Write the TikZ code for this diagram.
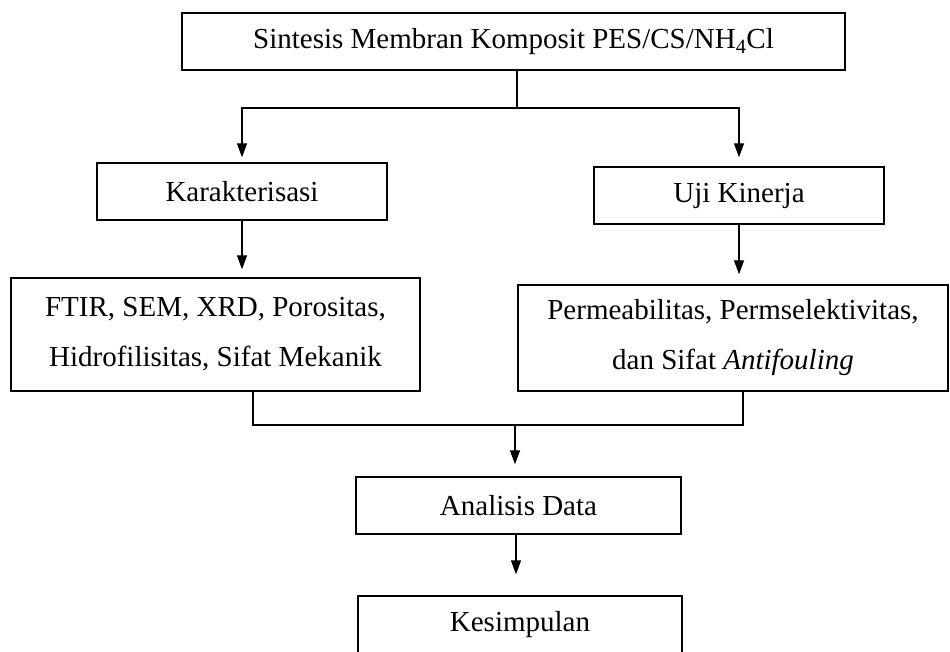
\documentclass[tikz,border=0pt]{standalone}
\usepackage{fontspec}
\setmainfont{Liberation Serif}
\usetikzlibrary{arrows.meta}

\begin{document}
\begin{tikzpicture}[x=1pt, y=-1pt,
    box/.style={draw, line width=1.4pt, inner sep=0pt, align=center,
      font=\fontsize{29}{50}\selectfont},
    line/.style={line width=1.2pt},
    arr/.style={line, -{Triangle[length=14pt,width=10pt]}}]
  \useasboundingbox (0,0) rectangle (950,651);
  \node[box, minimum width=663pt, minimum height=57pt] (sintesis) at (513.5,41.5)
    {Sintesis Membran Komposit PES/CS/NH\textsubscript{4}Cl};
  \node[box, minimum width=290pt, minimum height=57pt] (karakter) at (242,191.5) {Karakterisasi};
  \node[box, minimum width=290pt, minimum height=57pt] (uji) at (739,195.5) {Uji Kinerja};
  \node[box, minimum width=409pt, minimum height=113pt] (ftir) at (215.5,334.5)
    {FTIR, SEM, XRD, Porositas,\\Hidrofilisitas, Sifat Mekanik};
  \node[box, minimum width=430pt, minimum height=106pt] (perm) at (733,338)
    {Permeabilitas, Permselektivitas,\\dan Sifat \textit{Antifouling}};
  \node[box, minimum width=325pt, minimum height=57pt] (analisis) at (518.5,505.5) {Analisis Data};
  \node[box, minimum width=324pt, minimum height=57pt] (kesimpulan) at (520,624.5) {Kesimpulan};

  \coordinate (split) at (517,108);
  \coordinate (merge) at (515,425);
  \draw[line] (sintesis.south -| split) -- (split);
  \draw[arr, shorten >=5pt] (split) -| (karakter.north);
  \draw[arr, shorten >=9pt] (split) -| (uji.north);
  \draw[arr, shorten >=8pt] (karakter.south) -- (karakter.south |- ftir.north);
  \draw[arr, shorten >=10pt] (uji.south) -- (uji.south |- perm.north);
  \draw[line] ([xshift=37.5pt]ftir.south) |- (merge) -| ([xshift=10pt]perm.south);
  \draw[arr, shorten >=12pt] (merge) -- (merge |- analisis.north);
  \draw[arr, shorten >=21pt] (analisis.south -| 516,0) -- (kesimpulan.north -| 516,0);
\end{tikzpicture}
\end{document}
